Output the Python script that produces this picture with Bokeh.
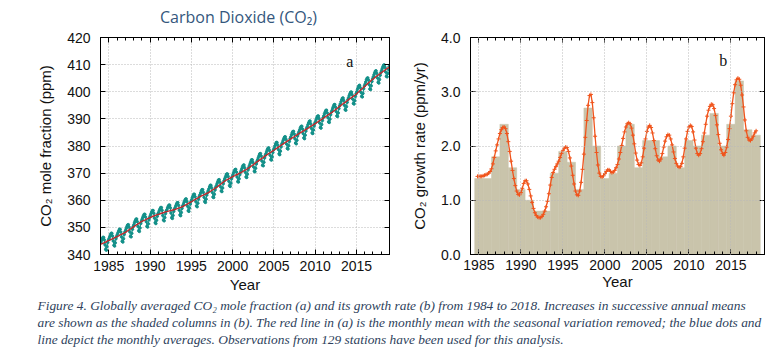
import numpy as np
from bokeh.plotting import figure
from bokeh.models import (Range1d, LinearAxis, SingleIntervalTicker, Label,
                          PrintfTickFormatter, CustomJSTickFormatter)
from bokeh.layouts import column, row
from bokeh.embed import file_html
from bokeh.resources import INLINE
from bokeh.core.properties import value

# ---------------- data ----------------
# (a) monthly mean CO2 with seasonal variation removed (ppm), Jan 1984 .. Dec 2018
co2_trend = [
    343.8, 343.9, 344.0, 344.1, 344.2, 344.4, 344.5, 344.6, 344.7, 344.9, 345.0, 345.1,
    345.2, 345.3, 345.5, 345.6, 345.7, 345.8, 345.9, 346.1, 346.2, 346.3, 346.4, 346.5,
    346.7, 346.8, 346.9, 347.1, 347.2, 347.3, 347.4, 347.6, 347.7, 347.8, 348.0, 348.1,
    348.2, 348.4, 348.6, 348.7, 348.9, 349.1, 349.3, 349.4, 349.6, 349.8, 349.9, 350.1,
    350.3, 350.5, 350.6, 350.8, 351.0, 351.1, 351.3, 351.5, 351.6, 351.8, 352.0, 352.1,
    352.3, 352.4, 352.5, 352.6, 352.7, 352.8, 353.0, 353.1, 353.2, 353.3, 353.4, 353.5,
    353.7, 353.8, 353.9, 354.0, 354.1, 354.2, 354.3, 354.4, 354.5, 354.6, 354.7, 354.8,
    354.8, 354.9, 355.0, 355.1, 355.2, 355.3, 355.3, 355.4, 355.5, 355.6, 355.7, 355.8,
    355.8, 355.9, 356.0, 356.0, 356.1, 356.2, 356.2, 356.3, 356.4, 356.4, 356.5, 356.6,
    356.6, 356.7, 356.8, 356.9, 357.0, 357.1, 357.2, 357.3, 357.4, 357.5, 357.6, 357.7,
    357.8, 358.0, 358.1, 358.2, 358.4, 358.5, 358.7, 358.8, 359.0, 359.1, 359.2, 359.4,
    359.5, 359.7, 359.8, 360.0, 360.1, 360.3, 360.4, 360.6, 360.7, 360.9, 361.0, 361.2,
    361.3, 361.4, 361.6, 361.7, 361.8, 361.9, 362.0, 362.2, 362.3, 362.4, 362.5, 362.6,
    362.8, 362.9, 363.1, 363.3, 363.4, 363.6, 363.8, 363.9, 364.1, 364.2, 364.4, 364.6,
    364.7, 364.9, 365.1, 365.3, 365.5, 365.7, 365.9, 366.1, 366.3, 366.5, 366.7, 366.9,
    367.1, 367.2, 367.4, 367.5, 367.6, 367.8, 367.9, 368.1, 368.2, 368.3, 368.5, 368.6,
    368.8, 368.9, 369.0, 369.1, 369.3, 369.4, 369.5, 369.6, 369.8, 369.9, 370.0, 370.1,
    370.3, 370.4, 370.6, 370.7, 370.9, 371.0, 371.2, 371.3, 371.5, 371.6, 371.8, 371.9,
    372.1, 372.3, 372.5, 372.7, 372.8, 373.0, 373.2, 373.4, 373.6, 373.8, 374.0, 374.2,
    374.3, 374.5, 374.7, 374.9, 375.1, 375.3, 375.4, 375.6, 375.8, 376.0, 376.2, 376.4,
    376.5, 376.7, 376.9, 377.0, 377.2, 377.4, 377.5, 377.7, 377.9, 378.0, 378.2, 378.4,
    378.5, 378.7, 378.9, 379.1, 379.2, 379.4, 379.6, 379.8, 379.9, 380.1, 380.3, 380.5,
    380.6, 380.8, 381.0, 381.1, 381.3, 381.5, 381.6, 381.8, 382.0, 382.1, 382.3, 382.5,
    382.6, 382.8, 383.0, 383.1, 383.3, 383.4, 383.6, 383.8, 383.9, 384.1, 384.3, 384.4,
    384.6, 384.7, 384.9, 385.0, 385.2, 385.3, 385.5, 385.7, 385.8, 386.0, 386.1, 386.3,
    386.4, 386.6, 386.7, 386.9, 387.1, 387.2, 387.4, 387.5, 387.7, 387.9, 388.0, 388.2,
    388.3, 388.5, 388.7, 388.8, 389.0, 389.2, 389.4, 389.5, 389.7, 389.9, 390.0, 390.2,
    390.4, 390.6, 390.7, 390.9, 391.1, 391.2, 391.4, 391.6, 391.8, 391.9, 392.1, 392.3,
    392.4, 392.6, 392.8, 393.0, 393.2, 393.4, 393.6, 393.8, 394.0, 394.2, 394.4, 394.6,
    394.8, 395.0, 395.2, 395.4, 395.6, 395.8, 395.9, 396.1, 396.3, 396.5, 396.7, 396.9,
    397.1, 397.3, 397.5, 397.6, 397.8, 398.0, 398.2, 398.4, 398.6, 398.7, 398.9, 399.1,
    399.3, 399.6, 399.8, 400.0, 400.3, 400.5, 400.7, 401.0, 401.2, 401.4, 401.7, 401.9,
    402.1, 402.3, 402.6, 402.8, 403.0, 403.3, 403.5, 403.7, 403.9, 404.2, 404.4, 404.6,
    404.8, 405.0, 405.2, 405.4, 405.6, 405.8, 406.0, 406.2, 406.3, 406.5, 406.7, 406.9,
    407.1, 407.3, 407.5, 407.6, 407.8, 408.0, 408.2, 408.4, 408.6, 408.7, 408.9, 409.1,
]
# seasonal variation of the monthly averages, Jan..Dec (ppm)
co2_seasonal = [0.7, 1.3, 1.8, 2.2, 2.1, 1.0, -0.9, -2.7, -3.1, -2.0, -0.6, 0.2]
co2_first_year = 1984

# (b) growth rate (ppm/yr), every two months from Nov 1984 to Jan 2018
growth_rate = [
    1.44,
    1.44, 1.44, 1.44, 1.45, 1.46, 1.47,
    1.48, 1.50, 1.53, 1.58, 1.67, 1.79,
    1.91, 2.02, 2.13, 2.23, 2.30, 2.34,
    2.35, 2.32, 2.23, 2.08, 1.90, 1.72,
    1.55, 1.40, 1.27, 1.17, 1.11, 1.10,
    1.14, 1.22, 1.31, 1.36, 1.36, 1.30,
    1.20, 1.08, 0.96, 0.85, 0.77, 0.72,
    0.69, 0.68, 0.68, 0.70, 0.74, 0.80,
    0.88, 0.98, 1.12, 1.28, 1.42, 1.51,
    1.57, 1.62, 1.67, 1.72, 1.79, 1.86,
    1.92, 1.96, 1.98, 1.97, 1.90, 1.78,
    1.63, 1.46, 1.30, 1.17, 1.10, 1.09,
    1.17, 1.33, 1.57, 1.85, 2.16, 2.47,
    2.75, 2.93, 2.95, 2.80, 2.52, 2.18,
    1.88, 1.65, 1.50, 1.44, 1.43, 1.45,
    1.49, 1.53, 1.56, 1.56, 1.53, 1.51,
    1.52, 1.55, 1.60, 1.66, 1.76, 1.88,
    2.01, 2.14, 2.26, 2.35, 2.41, 2.43,
    2.41, 2.33, 2.20, 2.04, 1.87, 1.74,
    1.66, 1.64, 1.69, 1.80, 1.96, 2.13,
    2.27, 2.35, 2.38, 2.34, 2.24, 2.10,
    1.95, 1.82, 1.74, 1.72, 1.76, 1.86,
    1.98, 2.09, 2.17, 2.21, 2.20, 2.13,
    2.02, 1.89, 1.77, 1.68, 1.63, 1.61,
    1.62, 1.68, 1.80, 1.96, 2.13, 2.27,
    2.35, 2.38, 2.36, 2.26, 2.11, 1.96,
    1.86, 1.83, 1.86, 1.95, 2.08, 2.24,
    2.40, 2.55, 2.66, 2.73, 2.77, 2.76,
    2.69, 2.56, 2.39, 2.21, 2.05, 1.93,
    1.86, 1.83, 1.88, 1.98, 2.12, 2.32,
    2.55, 2.78, 2.98, 3.13, 3.22, 3.25,
    3.23, 3.12, 2.94, 2.72, 2.48, 2.28,
    2.16, 2.11, 2.10, 2.13, 2.18, 2.24,
    2.28,
]
growth_start = 1984 + 5 / 6
growth_step = 1 / 6

# (b) increases in successive annual means (ppm/yr)
increase_years = list(range(1985, 2019))
annual_increase = [1.4, 1.4, 1.8, 2.4, 1.6, 1.2, 1.0, 0.8, 0.8, 1.5,
                   1.9, 1.7, 1.2, 2.7, 2.0, 1.4, 1.5, 2.0, 2.4, 1.6,
                   2.1, 2.1, 1.8, 2.0, 1.6, 2.1, 2.0, 2.2, 2.6, 2.0,
                   2.4, 3.2, 2.3, 2.2]

title_text = "Carbon Dioxide (CO\u2082)"
caption_lines = [
    "Figure 4. Globally averaged CO\u2082 mole fraction (a) and its growth rate (b) from 1984 to 2018. Increases in successive annual means",
    "are shown as the shaded columns in (b). The red line in (a) is the monthly mean with the seasonal variation removed; the blue dots and",
    "line depict the monthly averages. Observations from 129 stations have been used for this analysis.",
]

# ---------------- derived ----------------
n_months = len(co2_trend)
month_t = co2_first_year + (np.arange(n_months) + 0.5) / 12
co2_monthly = np.array(co2_trend) + np.tile(co2_seasonal, n_months // 12)
growth_t = growth_start + np.arange(len(growth_rate)) * growth_step

TEAL = "#139089"
RED = "#c0282b"
ORANGE = "#f0541c"
KHAKI = "#c9c4ab"
TICK_FONT = "Liberation Sans"


def style(p, yint, ylabel, xstand, xlabstand, yfmt=None):
    xt = SingleIntervalTicker(interval=5, num_minor_ticks=5)
    yt = SingleIntervalTicker(interval=yint, num_minor_ticks=0)
    p.xaxis.ticker = xt
    p.yaxis.ticker = yt
    if yfmt is not None:
        p.yaxis.formatter = yfmt
    p.xgrid.ticker = xt
    p.ygrid.ticker = yt
    for g in (p.xgrid, p.ygrid):
        g.grid_line_color = "#b8b8b8"
        g.grid_line_dash = "1 2"
        g.grid_line_width = 1
    p.xaxis.axis_label = "Year"
    p.yaxis.axis_label = ylabel
    for ax in (p.xaxis, p.yaxis):
        ax.axis_label_text_font = TICK_FONT
        ax.axis_label_text_font_size = "15px"
        ax.axis_label_text_font_style = "normal"
        ax.axis_label_text_color = "#111111"
        ax.major_label_text_font = TICK_FONT
        ax.major_label_text_font_size = "14px"
        ax.major_label_text_color = "#111111"
    p.xaxis.major_label_standoff = xstand
    p.xaxis.axis_label_standoff = xlabstand
    p.yaxis.major_label_standoff = 10
    p.yaxis.axis_label_standoff = 10
    blank = CustomJSTickFormatter(code="return ''")
    p.add_layout(LinearAxis(ticker=xt, formatter=blank, major_label_text_font_size="0px",
                            major_label_standoff=0), "above")
    p.add_layout(LinearAxis(ticker=yt, formatter=blank, major_label_text_font_size="0px",
                            major_label_standoff=0), "right")
    for ax in p.axis:
        ax.major_tick_in = 5
        ax.major_tick_out = 0
        ax.minor_tick_in = 3
        ax.minor_tick_out = 0
        ax.axis_line_color = "black"
        ax.major_tick_line_color = "black"
        ax.minor_tick_line_color = "black"
    p.outline_line_color = "black"
    p.background_fill_color = "white"
    p.border_fill_color = "white"


# ---------------- (a) ----------------
pa = figure(width=400, height=273, x_range=Range1d(1984, 2019), y_range=Range1d(340, 420),
            output_backend="svg", toolbar_location=None,
            min_border_left=100, min_border_right=11, min_border_top=11, min_border_bottom=45)
style(pa, 10, "CO\u2082 mole fraction (ppm)", 6, 2)
pa.line(month_t, co2_monthly, line_color=TEAL, line_width=1.0)
pa.scatter(month_t, co2_monthly, marker="circle", size=2.5, fill_color=TEAL, line_color=TEAL)
pa.line(month_t, co2_trend, line_color=RED, line_width=1.4)
pa.add_layout(Label(x=2014.2, y=411.1, text="a", text_font="Liberation Serif",
                    text_font_size="16px", text_align="center", text_baseline="middle",
                    text_color="#111111"))

# ---------------- (b) ----------------
pb = figure(width=379, height=273, x_range=Range1d(1984, 2019), y_range=Range1d(0, 4),
            output_backend="svg", toolbar_location=None,
            min_border_left=70, min_border_right=15, min_border_top=11, min_border_bottom=42)
style(pb, 1, "CO\u2082 growth rate (ppm/yr)", 5, 0, PrintfTickFormatter(format="%.1f"))
pb.vbar(x=increase_years, top=annual_increase, bottom=0, width=1.0,
        fill_color=KHAKI, line_color=KHAKI, line_width=0.5)
pb.xgrid.level = "guide"
pb.ygrid.level = "guide"
pb.line(growth_t, growth_rate, line_color=ORANGE, line_width=1.3)
pb.scatter(growth_t, growth_rate, marker="cross", size=4, line_color=ORANGE, line_width=1)
pb.add_layout(Label(x=2014.1, y=3.58, text="b", text_font="Liberation Serif",
                    text_font_size="16px", text_align="center", text_baseline="middle",
                    text_color="#111111"))

# ---------------- title & caption ----------------
def text_panel(w, h):
    p = figure(width=w, height=h, x_range=Range1d(0, w), y_range=Range1d(h, 0),
               output_backend="svg", toolbar_location=None, min_border=0,
               x_axis_type=None, y_axis_type=None)
    p.outline_line_color = None
    p.grid.visible = False
    p.background_fill_color = "white"
    p.border_fill_color = "white"
    return p


head = text_panel(779, 26)
head.text(x=[238], y=[16], text=[title_text], text_font=value("Open Sans"),
          text_font_size="16px", text_color="#35577d", text_align="center",
          text_baseline="middle")

cap = text_panel(779, 57)
cap.text(x=[37, 37, 37], y=[6, 23, 40], text=caption_lines,
         text_font=value("Liberation Serif"), text_font_style="italic",
         text_font_size="13.4px", text_color="#2e3f5c", text_align="left",
         text_baseline="middle")

layout = column(head, row(pa, pb), cap)
open("out.html", "w").write(file_html(layout, INLINE))
